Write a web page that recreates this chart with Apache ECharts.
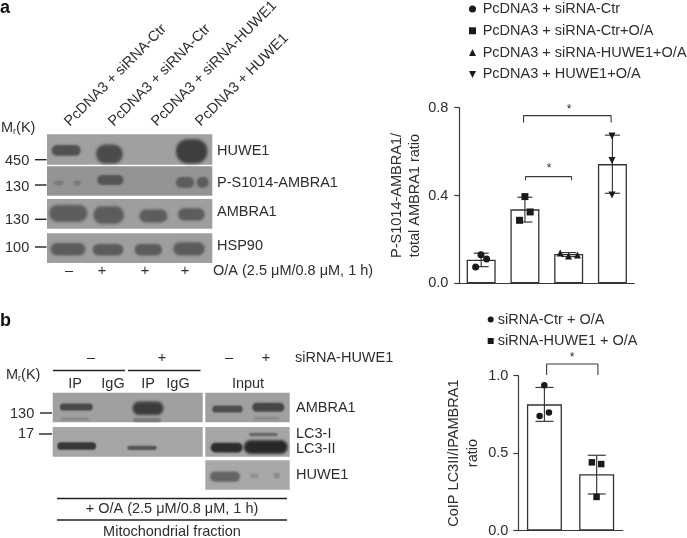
<!DOCTYPE html>
<html><head><meta charset="utf-8">
<style>html,body{margin:0;padding:0;background:#fff}#c{width:687px;height:538px}</style>
<script src="https://cdn.jsdelivr.net/npm/echarts@6/dist/echarts.min.js"></script></head>
<body><div id="c"></div>
<script>
// ---- data: panel a chart
const aCategories = ['PcDNA3 + siRNA-Ctr','PcDNA3 + siRNA-Ctr+O/A','PcDNA3 + siRNA-HUWE1+O/A','PcDNA3 + HUWE1+O/A'];
const aMeans = [0.107,0.337,0.134,0.543];
const aErrLow = [0.076,0.279,0.122,0.41];
const aErrHigh = [0.137,0.392,0.14,0.675];
const aPts1 = [[0.373,0.074],[0.495,0.13],[0.624,0.111]];
const aPts2 = [[1.377,0.287],[1.5,0.395],[1.62,0.325]];
const aPts3 = [[2.306,0.138],[2.496,0.124],[2.7,0.129]];
const aPts4 = [[3.49,0.671],[3.49,0.56],[3.49,0.402]];
const aBracket1 = [[1.469,0.733],[1.469,0.764],[3.47,0.764],[3.47,0.733]];
const aBracket2 = [[1.514,0.469],[1.514,0.486],[2.565,0.486],[2.565,0.469]];
// ---- data: panel b chart
const bCategories = ['siRNA-Ctr + O/A','siRNA-HUWE1 + O/A'];
const bMeans = [0.815,0.363];
const bErrLow = [0.705,0.236];
const bErrHigh = [0.924,0.486];
const bPts1 = [[0.408,0.739],[0.497,0.938],[0.586,0.762]];
const bPts2 = [[1.408,0.44],[1.587,0.429],[1.498,0.217]];
const bBracket = [[0.542,1.004],[0.542,1.076],[1.523,1.076],[1.523,1.004]];

const FONT='"Liberation Sans",Arial,sans-serif', INK='#2e2e2e', AX='#3a3a3a', FS=14.5;
const DOWN='path://M0,0L10,0L5,10Z';
const chart=echarts.init(document.getElementById('c'),null,{renderer:'canvas'});

function txt(x,y,s,o){o=o||{};return {type:'text',x,y,rotation:o.rot||0,z:5,style:{text:s,fill:o.fill||INK,
  font:(o.bold?'bold ':'')+(o.size||FS)+'px '+FONT,textAlign:o.align||'left',textVerticalAlign:'middle',rich:o.rich}};}
function rect(x,y,w,h,fill){return {type:'rect',x:0,y:0,z:1,shape:{x,y,width:w,height:h},style:{fill}};}
function dash(x1,x2,y,w){return {type:'line',z:3,shape:{x1,y1:y,x2,y2:y},style:{stroke:'#222',lineWidth:w||1.4}};}
// soft blot band: a pill drawn off-canvas whose blurred shadow falls in place. Coordinates in 3x zoom units.
const OFF=2000;
function band(x1,x2,y1,y2,dark,oy){
  const c=dark==null?92:dark, col=`rgb(${c},${c},${c})`;
  const H=(y2-y1)/3, blur=Math.min(3,Math.max(1.6,H*0.2));
  const w=(x2-x1)/3,h=H*0.96;
  return {type:'rect',x:0,y:0,z:2,shape:{x:x1/3-OFF,y:y1/3+(oy||0)+H*0.02,width:w,height:h,r:h*0.48},
    style:{fill:col,shadowColor:col,shadowBlur:blur,shadowOffsetX:OFF}};
}
const Z=300; // y offset of panel b's zoom units
const mr={a:{font:FS+'px '+FONT,fill:INK},b:{font:'9px '+FONT,fill:INK,verticalAlign:'bottom',padding:[7,0,0,0]}};
const G='#a0a0a0';
const gfx=[
 txt(0,8,'a',{bold:true,size:18,fill:'#111'}), txt(0,321,'b',{bold:true,size:18,fill:'#111'}),
 txt(67,124,'PcDNA3 + siRNA-Ctr',{rot:Math.PI/4}), txt(111,124,'PcDNA3 + siRNA-Ctr',{rot:Math.PI/4}),
 txt(154,124,'PcDNA3 + siRNA-HUWE1',{rot:Math.PI/4}), txt(198,124,'PcDNA3 + HUWE1',{rot:Math.PI/4}),
 txt(1,128,'{a|M}{b|r}{a|(K)}',{rich:mr}),
 rect(47,134.3,165.3,30.4,G),rect(47,166.3,165.3,29.4,'#949494'),rect(47,199,165.3,29.7,'#9e9e9e'),rect(47,233.3,165.3,29.7,'#9e9e9e'),
 band(155,242,434,468,80),band(288,368,432,492,75),band(528,622,416,492,62),
 band(162,190,542,556,122),band(220,244,542,556,122),band(292,370,524,556,85),band(528,582,530,564,92),band(590,626,530,564,92),
 band(148,262,614,666),band(280,372,618,672),band(418,502,628,668),band(534,614,624,662),
 band(152,256,728,767),band(278,370,731,767),band(404,486,731,767),band(520,614,726,767),
 dash(35,46.5,159.7),dash(35,46.5,185),dash(35,46.5,219.3),dash(35,46.5,247),
 txt(5,161,'450'),txt(5,186.5,'130'),txt(5,220,'130'),txt(5,248,'100'),
 txt(217,151,'HUWE1'),txt(217,183,'P-S1014-AMBRA1'),txt(217,212,'AMBRA1'),txt(217,246,'HSP90'),
 txt(69,271,'–',{align:'center'}),txt(102,271,'+',{align:'center'}),txt(145,271,'+',{align:'center'}),txt(185,271,'+',{align:'center'}),
 txt(213,271,'O/A (2.5 μM/0.8 μM, 1 h)'),
 txt(91,358,'–',{align:'center'}),txt(162,358,'+',{align:'center'}),txt(229,358,'–',{align:'center'}),txt(266,358,'+',{align:'center'}),
 txt(295,358,'siRNA-HUWE1'),
 dash(53,125,370.5),dash(128,200.5,370.5),
 txt(6,375,'{a|M}{b|r}{a|(K)}',{rich:mr}),
 txt(75,384,'IP',{align:'center'}),txt(113,384,'IgG',{align:'center'}),txt(148,384,'IP',{align:'center'}),txt(178,384,'IgG',{align:'center'}),txt(248,384,'Input',{align:'center'}),
 rect(52.7,392.7,150,29.6,G),rect(205.3,392.7,84.4,29.6,G),rect(52.7,427,150,29.7,'#a6a6a6'),rect(205.3,427,84.4,29.7,'#a6a6a6'),rect(205.3,460.3,84.4,29.4,'#a8a8a8'),
 band(180,278,310,332,72,Z),band(182,268,352,362,135,Z),
 band(398,490,304,346,60,Z),band(400,483,354,366,122,Z),
 band(637,728,316,338,78,Z),band(757,853,308,336,70,Z),band(762,838,350,362,140,Z),
 band(172,288,426,450,55,Z),band(382,470,437,450,85,Z),
 band(632,728,428,458,45,Z),band(732,863,420,462,40,Z),band(747,833,398,409,105,Z),
 band(630,720,514,546,100,Z),band(750,776,520,534,145,Z),band(820,840,518,536,138,Z),
 dash(40,52,413),dash(39,52,434),
 txt(10,413.5,'130'),txt(18,434,'17'),
 txt(296,408,'AMBRA1'),txt(296,434,'LC3-I'),txt(296,448.5,'LC3-II'),txt(296,475,'HUWE1'),
 dash(57,287,498.5),dash(57,287,520),
 txt(172,509,'+ O/A (2.5 μM/0.8 μM, 1 h)',{align:'center'}),txt(172,532,'Mitochondrial fraction',{align:'center'}),
 txt(569,110,'*',{align:'center',size:12}),txt(549,169,'*',{align:'center',size:12}),txt(572,358,'*',{align:'center',size:12})
].flat();

function errSeries(name,xi,yi,cats,lo,hi,cap){
  return {type:'custom',name,xAxisIndex:xi,yAxisIndex:yi,z:4,data:cats.map((c,i)=>[i,lo[i],hi[i]]),
    renderItem(p,api){const x=api.coord([api.value(0),0])[0],a=api.coord([0,api.value(1)])[1],b=api.coord([0,api.value(2)])[1];
      const st={stroke:AX,lineWidth:1.2,fill:null};
      return {type:'group',children:[[x,a,x,b],[x-cap,a,x+cap,a],[x-cap,b,x+cap,b]].map(s=>({type:'line',shape:{x1:s[0],y1:s[1],x2:s[2],y2:s[3]},style:st}))};}};
}
const dot=(name,data,xi,yi,symbol,size)=>({type:'scatter',name,data,xAxisIndex:xi,yAxisIndex:yi,symbol,symbolSize:size,z:6,clip:false,itemStyle:{color:'#1a1a1a',opacity:1}});
const bracket=(name,data,xi,yi)=>({type:'line',name,data,xAxisIndex:xi,yAxisIndex:yi,showSymbol:false,symbol:'none',clip:false,z:5,silent:true,lineStyle:{color:AX,width:1.1},animation:false});
const bar=(name,data,xi,yi,w)=>({type:'bar',name,data,xAxisIndex:xi,yAxisIndex:yi,barWidth:w,z:3,itemStyle:{color:'#fff',borderColor:'#333',borderWidth:1.3}});
const catAxis=(gi,cats)=>({type:'category',gridIndex:gi,data:cats,axisTick:{show:false},axisLabel:{show:false},axisLine:{onZero:false,lineStyle:{color:AX,width:1.2}}});
const hidX=(gi,n)=>({type:'value',gridIndex:gi,min:0,max:n,show:false,splitLine:{show:false}});
const valAxis=(gi,max,interval,name,gap,lh,margin)=>({type:'value',gridIndex:gi,min:0,max,interval,name,nameLocation:'middle',nameRotate:90,nameGap:gap,
  nameTextStyle:{fontFamily:FONT,fontSize:FS,color:INK,lineHeight:lh},splitLine:{show:false},
  axisLine:{show:true,lineStyle:{color:AX,width:1.2}},axisTick:{show:true,length:5,lineStyle:{color:AX,width:1.2}},
  axisLabel:{margin,fontFamily:FONT,fontSize:FS,color:INK,formatter:v=>v.toFixed(1)}});

chart.setOption({
 animation:false,backgroundColor:'#fff',
 grid:[{left:459.3,top:107.7,width:175,height:175.6,containLabel:false},{left:518.3,top:375.7,width:104.5,height:157,containLabel:false}],
 xAxis:[catAxis(0,aCategories),hidX(0,4),catAxis(1,bCategories),hidX(1,2)],
 yAxis:[valAxis(0,0.8,0.4,'P-S1014-AMBRA1/\ntotal AMBRA1 ratio',34.5,18,11),valAxis(1,1.0,0.5,'CoIP LC3II/IPAMBRA1\nratio',36,19,10)],
 legend:[
  {left:469,top:1.5,padding:0,orient:'vertical',itemWidth:7,itemHeight:7,itemGap:6.8,selectedMode:false,textStyle:{fontFamily:FONT,fontSize:FS,color:INK,padding:[0,0,0,1.7]},
   data:aCategories.map(name=>({name}))},
  {left:487.7,top:312,padding:0,orient:'vertical',itemWidth:6,itemHeight:6,itemGap:6.5,selectedMode:false,textStyle:{fontFamily:FONT,fontSize:FS,color:INK,padding:[0,0,0,-1]},
   data:bCategories.map(name=>({name}))}
 ],
 series:[
  bar('aMean',aMeans,0,0,29),
  errSeries('aErr',0,0,aCategories,aErrLow,aErrHigh,7.5),
  dot(aCategories[0],aPts1,1,0,'circle',7),dot(aCategories[1],aPts2,1,0,'rect',7),dot(aCategories[2],aPts3,1,0,'triangle',7),dot(aCategories[3],aPts4,1,0,DOWN,7),
  bracket('aBr1',aBracket1,1,0),bracket('aBr2',aBracket2,1,0),
  bar('bMean',bMeans,2,1,35),
  errSeries('bErr',2,1,bCategories,bErrLow,bErrHigh,9),
  dot(bCategories[0],bPts1,3,1,'circle',6.5),dot(bCategories[1],bPts2,3,1,'rect',6.5),
  bracket('bBr',bBracket,3,1)
 ],
 graphic:{elements:gfx}
});
</script></body></html>
